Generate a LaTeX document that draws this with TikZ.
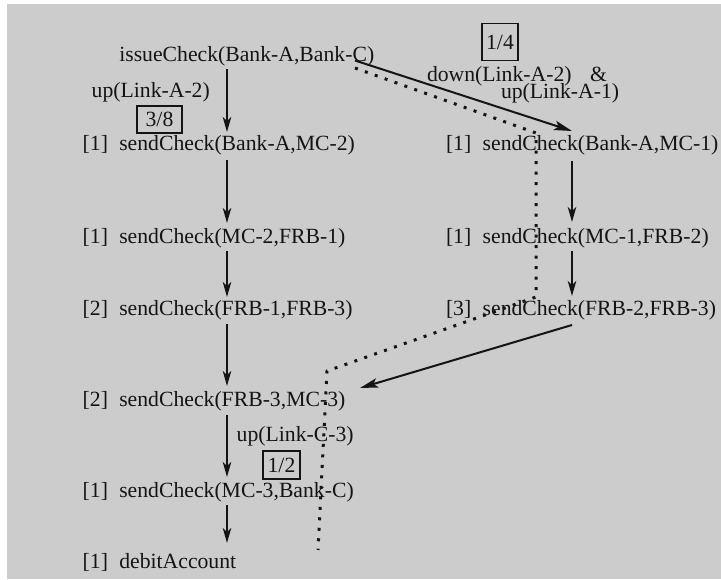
\documentclass[tikz,border=0pt]{standalone}
\usepackage{fontspec}
\setmainfont{Liberation Serif}
\usetikzlibrary{arrows.meta}
\definecolor{panel}{HTML}{CCCCCC}
\definecolor{ink}{HTML}{141414}
\begin{document}
\begin{tikzpicture}[x=1pt,y=-1pt,
  every node/.style={inner sep=0pt,outer sep=0pt,text=ink,
    font=\fontsize{21.7}{26}\selectfont},
  txt/.style={anchor=base west},
  frac/.style={draw=ink,line width=1.8pt,anchor=center},
  arr/.style={draw=ink,line width=1.5pt,
    -{Stealth[length=15pt,width=8.5pt,inset=4pt]}},
  darr/.style={draw=ink,line width=2pt,
    -{Stealth[length=18pt,width=9.5pt,inset=4pt]}},
  trail/.style={draw=ink,line width=3pt,dash pattern=on 3pt off 7.5pt}]

% canvas
\useasboundingbox (0,0) rectangle (721,579);
\fill[white] (0,0) rectangle (721,579);
\fill[panel] (7,4) rectangle (721,579);

% left column
\node[txt] (issue) at (119.3,61) {issueCheck(Bank-A,Bank-C)};
\node[txt] (l1) at (82.7,150) {[1]};
\node[txt] (s1) at (119.3,150) {sendCheck(Bank-A,MC-2)};
\node[txt] (l2) at (82.7,243) {[1]};
\node[txt] (s2) at (119.3,243) {sendCheck(MC-2,FRB-1)};
\node[txt] (l3) at (82.7,315) {[2]};
\node[txt] (s3) at (119.3,315) {sendCheck(FRB-1,FRB-3)};
\node[txt] (l4) at (82.7,406) {[2]};
\node[txt] (s4) at (119.3,406) {sendCheck(FRB-3,MC-3)};
\node[txt] (l5) at (82.7,497) {[1]};
\node[txt] (s5) at (119.3,497) {sendCheck(MC-3,Bank-C)};
\node[txt] (l6) at (82.7,568) {[1]};
\node[txt] (s6) at (119.3,568) {debitAccount};

% right column
\node[txt] (m1) at (446,150) {[1]};
\node[txt] (r1) at (482.7,150) {sendCheck(Bank-A,MC-1)};
\node[txt] (m2) at (446,243) {[1]};
\node[txt] (r2) at (482.7,243) {sendCheck(MC-1,FRB-2)};
\node[txt] (m3) at (446,315) {[3]};
\node[txt] (r3) at (482.7,315) {sendCheck(FRB-2,FRB-3)};

% link annotations
\node[txt] (upA2) at (91.7,97.3) {up(Link-A-2)};
\node[frac,minimum width=45pt,minimum height=27pt] (p38) at (159.5,119.5) {3/8};
\node[txt] (downA2) at (427,81.2) {down(Link-A-2)};
\node[txt] (amp) at (590,81.2) {\&};
\node[txt] (upA1) at (501,98.2) {up(Link-A-1)};
\node[frac,minimum width=36pt,minimum height=37pt] (p14) at (500,42) {1/4};
\node[txt] (upC3) at (236.7,441.7) {up(Link-C-3)};
\node[frac,minimum width=37pt,minimum height=28pt] (p12) at (281.5,465) {1/2};

% left column flow (x = 227)
\draw[arr] ([xshift=107.7pt,yshift=-8pt]issue.base west) -- ([xshift=107.7pt,yshift=18pt]s1.base west);
\draw[arr] ([xshift=107.7pt,yshift=-10pt]s1.base west) -- ([xshift=107.7pt,yshift=20pt]s2.base west);
\draw[arr] ([xshift=107.7pt,yshift=-8pt]s2.base west) -- ([xshift=107.7pt,yshift=18pt]s3.base west);
\draw[arr] ([xshift=107.7pt,yshift=-9pt]s3.base west) -- ([xshift=107.7pt,yshift=20pt]s4.base west);
\draw[arr] ([xshift=107.7pt,yshift=-9pt]s4.base west) -- ([xshift=107.7pt,yshift=20pt]s5.base west);
\draw[arr] ([xshift=107.7pt,yshift=-8pt]s5.base west) -- ([xshift=107.7pt,yshift=25pt]s6.base west);

% right column flow (x = 572)
\draw[arr] ([xshift=89.3pt,yshift=-11pt]r1.base west) -- ([xshift=89.3pt,yshift=21pt]r2.base west);
\draw[arr] ([xshift=89.3pt,yshift=-8pt]r2.base west) -- ([xshift=89.3pt,yshift=19pt]r3.base west);

% crossings between the columns
\draw[darr] ([xshift=235.7pt,yshift=0.5pt]issue.base west) -- ([xshift=89.3pt,yshift=19pt]r1.base west);
\draw[darr] ([xshift=89.3pt,yshift=-10pt]r3.base west) -- ([xshift=240.7pt,yshift=18pt]s4.base west);

% dotted trace
\coordinate (t1) at (536,133);
\coordinate (t2) at (536,297);
\coordinate (t3) at (327,371);
\coordinate (t4) at (318,550);
\draw[trail] ([xshift=235.7pt,yshift=-7pt]issue.base west) -- (t1) -- (t2) -- (t3) -- (t4);
\end{tikzpicture}
\end{document}
